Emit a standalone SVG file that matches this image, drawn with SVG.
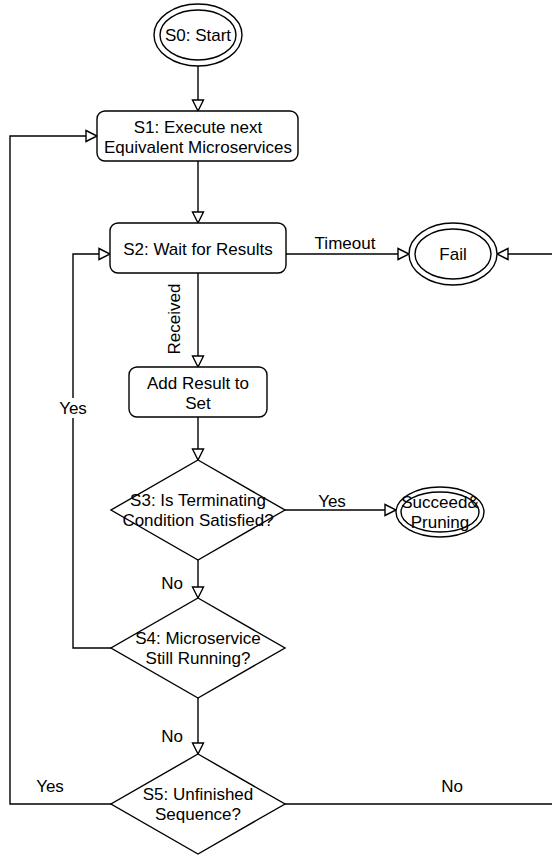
<svg xmlns="http://www.w3.org/2000/svg" width="552" height="855" viewBox="0 0 552 855">
<style>
  .shape { fill: #ffffff; stroke: #000000; stroke-width: 1.4; }
  .edge { fill: none; stroke: #000000; stroke-width: 1.4; marker-end: url(#arrow); }
  .line { fill: none; stroke: #000000; stroke-width: 1.4; }
  text { font-family: "Liberation Sans", Arial, Helvetica, sans-serif; font-size: 17px; fill: #000000; text-anchor: middle; }
  .lblbg { fill: #ffffff; stroke: none; }
</style>
<defs>
  <marker id="arrow" markerUnits="userSpaceOnUse" markerWidth="16" markerHeight="16" refX="13" refY="8" orient="auto">
    <path d="M2,2.5 L13,8 L2,13.5 Z" fill="#ffffff" stroke="#000000" stroke-width="1.4"/>
  </marker>
</defs>
<rect x="0" y="0" width="552" height="855" fill="#ffffff"/>

<g id="connectors">
  <path class="edge" d="M198,66 L198,111"/>
  <path class="edge" d="M198,161 L198,223"/>
  <path class="edge" d="M198,273 L198,367"/>
  <path class="edge" d="M198,417 L198,460"/>
  <path class="edge" d="M285,510 L396,510"/>
  <path class="edge" d="M198,560 L198,598"/>
  <path class="edge" d="M198,698 L198,754"/>
  <path class="edge" d="M286,254 L409,254"/>
  <path class="edge" d="M111,648 L73,648 L73,254 L110,254"/>
  <path class="edge" d="M111,804 L10,804 L10,136 L97,136"/>
  <path class="edge" d="M285,804 L560,804 L560,254 L497,254"/>
  <text x="345" y="249">Timeout</text>
  <text transform="translate(180,319) rotate(-90)" x="0" y="0">Received</text>
  <rect class="lblbg" x="57" y="398" width="32" height="20"/>
  <text x="73" y="414">Yes</text>
  <text x="332" y="507">Yes</text>
  <text x="172" y="589">No</text>
  <text x="172" y="742">No</text>
  <text x="50" y="792">Yes</text>
  <text x="452" y="792">No</text>
</g>

<g id="s0">
  <ellipse class="shape" cx="198" cy="35" rx="44" ry="31"/>
  <ellipse class="shape" cx="198" cy="35" rx="38" ry="25"/>
  <text x="198" y="41">S0: Start</text>
</g>

<g id="s1">
  <rect class="shape" x="97" y="111" width="201" height="50" rx="8" ry="8"/>
  <text x="198" y="133">S1: Execute next</text>
  <text x="198" y="153">Equivalent Microservices</text>
</g>

<g id="s2">
  <rect class="shape" x="110" y="223" width="176" height="50" rx="8" ry="8"/>
  <text x="198" y="255">S2: Wait for Results</text>
</g>

<g id="fail">
  <ellipse class="shape" cx="453" cy="254" rx="44" ry="31"/>
  <ellipse class="shape" cx="453" cy="254" rx="38" ry="25"/>
  <text x="453" y="260">Fail</text>
</g>

<g id="add-result">
  <rect class="shape" x="129" y="367" width="138" height="50" rx="8" ry="8"/>
  <text x="198" y="389">Add Result to</text>
  <text x="198" y="409">Set</text>
</g>

<g id="s3">
  <polygon class="shape" points="198,460 285,510 198,560 111,510"/>
  <text x="198" y="506">S3: Is Terminating</text>
  <text x="198" y="526">Condition Satisfied?</text>
</g>

<g id="succeed">
  <ellipse class="shape" cx="440" cy="512" rx="44" ry="25"/>
  <ellipse class="shape" cx="440" cy="512" rx="39" ry="20"/>
  <text x="440" y="508">Succeed&amp;</text>
  <text x="440" y="528">Pruning</text>
</g>

<g id="s4">
  <polygon class="shape" points="198,598 285,648 198,698 111,648"/>
  <text x="198" y="644">S4: Microservice</text>
  <text x="198" y="664">Still Running?</text>
</g>

<g id="s5">
  <polygon class="shape" points="198,754 285,804 198,854 111,804"/>
  <text x="198" y="800">S5: Unfinished</text>
  <text x="198" y="820">Sequence?</text>
</g>
</svg>
